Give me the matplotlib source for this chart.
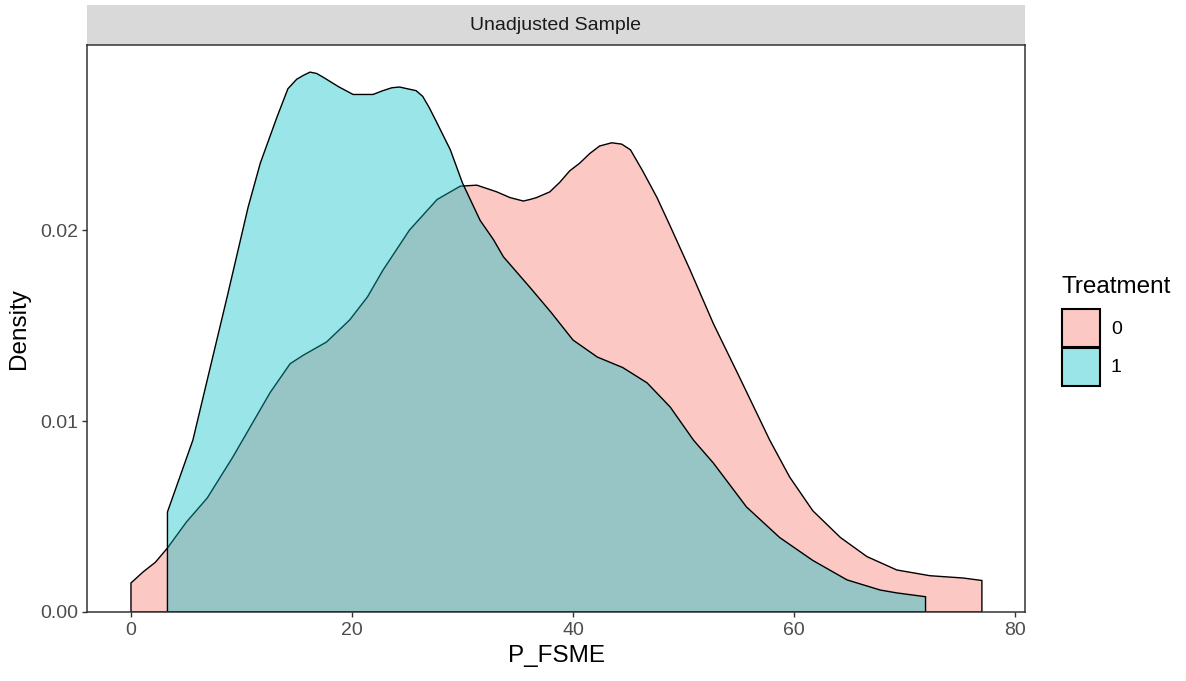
"""
Density of P_FSME by treatment group (unadjusted sample), ggplot-style.
"""

import matplotlib
matplotlib.use("Agg")
import matplotlib.pyplot as plt
from matplotlib.patches import Rectangle

plt.rcParams["font.family"] = ["Liberation Sans", "DejaVu Sans"]

# density curves (x = P_FSME, y = density)
x_treat0 = [0, 0, 1.1, 2.2, 3.3, 5.0, 6.9, 9.2, 10.8, 12.6, 14.4, 15.6, 17.7,
            19.8, 21.4, 22.8, 25.2, 27.7, 29.8, 31.3, 33.1, 34.3, 35.5, 36.1,
            36.7, 37.9, 38.8, 39.7, 40.6, 41.5, 42.4, 43.5, 44.4, 45.2, 46.3,
            47.6, 48.8, 50.6, 52.7, 55.1, 57.8, 59.6, 61.7, 64.2, 66.6, 69.3,
            72.3, 75.3, 77.0, 77.0]
y_treat0 = [0, 0.00152, 0.0021, 0.0026, 0.00335, 0.0047, 0.00597, 0.0081,
            0.0097, 0.0115, 0.0130, 0.01345, 0.01414, 0.0153, 0.0165, 0.0179,
            0.0200, 0.0216, 0.0223, 0.02235, 0.0220, 0.0217, 0.02152, 0.0216,
            0.0217, 0.0220, 0.0225, 0.0231, 0.0235, 0.0240, 0.0244, 0.02457,
            0.0245, 0.0242, 0.0231, 0.0217, 0.0202, 0.0179, 0.0151, 0.01225,
            0.0090, 0.00707, 0.0053, 0.0039, 0.0029, 0.0022, 0.0019, 0.00178,
            0.00165, 0]

x_treat1 = [3.3, 3.3, 4.5, 5.6, 6.9, 8.7, 10.6, 11.7, 13.2, 14.2, 15.0, 15.6,
            16.2, 16.8, 17.4, 18.8, 20.1, 21.9, 22.8, 23.6, 24.3, 25.0, 25.8,
            26.4, 27.0, 27.7, 28.9, 30.0, 31.6, 32.8, 33.7, 36.1, 38.0, 40.0,
            42.2, 44.5, 46.7, 48.8, 50.9, 52.7, 55.7, 58.7, 61.7, 64.8, 67.8,
            69.3, 71.9, 71.9]
y_treat1 = [0, 0.00524, 0.0072, 0.0090, 0.01215, 0.0165, 0.0212, 0.0235,
            0.0259, 0.0274, 0.0279, 0.0281, 0.02827, 0.0282, 0.0280, 0.0275,
            0.0271, 0.0271, 0.0273, 0.02745, 0.02749, 0.0274, 0.0273, 0.0270,
            0.0264, 0.0256, 0.0242, 0.02246, 0.0205, 0.0195, 0.0186, 0.0170,
            0.0157, 0.01424, 0.01335, 0.0128, 0.0120, 0.01073, 0.0090, 0.0078,
            0.0055, 0.0039, 0.0027, 0.00168, 0.00115, 0.0010, 0.0008, 0]

groups = ["0", "1"]
colors = ["#F8766D", "#00BFC4"]
x_ticks = [0, 20, 40, 60, 80]
y_ticks = [0.00, 0.01, 0.02]
y_ticklabels = ["0.00", "0.01", "0.02"]

W, H = 1186, 681


def fx(px):
    return px / W


def fy(py):
    return 1 - py / H


fig = plt.figure(figsize=(W / 100, H / 100), dpi=100)
ax = fig.add_axes([fx(87), fy(612), fx(1025) - fx(87), fy(45) - fy(612)])

for xs, ys, c in zip([x_treat0, x_treat1], [y_treat0, y_treat1], colors):
    ax.fill(xs, ys, facecolor=matplotlib.colors.to_rgba(c, 0.4),
            edgecolor="black", linewidth=1.0)

ax.set_xlim(-3.98, 80.9)
ax.set_ylim(0, 0.02969)
ax.set_xticks(x_ticks)
ax.set_yticks(y_ticks)
ax.set_yticklabels(y_ticklabels)
ax.tick_params(length=3.5, width=1, color="#333333", labelcolor="#4D4D4D",
               labelsize=14)
ax.tick_params(axis="x", pad=4)
ax.tick_params(axis="y", pad=3)
for sp in ax.spines.values():
    sp.set_color("#333333")
    sp.set_linewidth(1.1)

ax.set_xlabel("P_FSME", fontsize=17.5, labelpad=4)
ax.set_ylabel("Density", fontsize=17.5, labelpad=7)

# facet strip
strip_h = 40 / 567
ax.add_patch(Rectangle((0, 1), 1, strip_h, transform=ax.transAxes,
                       facecolor="#D9D9D9", edgecolor="none", clip_on=False))
ax.text(0.5, 1 + strip_h / 2, "Unadjusted Sample", transform=ax.transAxes,
        ha="center", va="center", fontsize=14, color="#1A1A1A")

# legend
fig.text(fx(1061), fy(287), "Treatment", fontsize=17.5, ha="left", va="center")
key_tops = [309, 348]
for top, c, lab in zip(key_tops, colors, groups):
    fig.add_artist(Rectangle((fx(1062), fy(top + 38)), fx(38), 38 / H,
                             transform=fig.transFigure,
                             facecolor=matplotlib.colors.to_rgba(c, 0.4),
                             edgecolor="black", linewidth=1.5))
    fig.text(fx(1111), fy(top + 20), lab, fontsize=14, ha="left", va="center")

fig.savefig("out.png", dpi=100)
